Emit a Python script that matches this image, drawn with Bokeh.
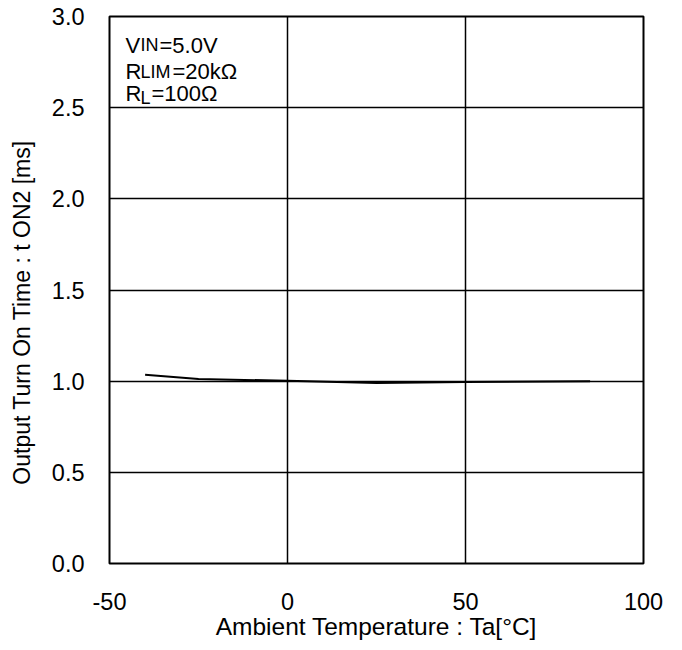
from bokeh.plotting import figure
from bokeh.models import FixedTicker, NumeralTickFormatter, Label, Range1d
from bokeh.embed import file_html
from bokeh.resources import INLINE

# ---- data ----
temps = [-40, -25, 0, 25, 50, 85]
ton2 = [1.035, 1.012, 1.002, 0.990, 0.996, 1.000]
x_ticks = [-50, 0, 50, 100]
y_ticks = [0.0, 0.5, 1.0, 1.5, 2.0, 2.5, 3.0]
x_title = "Ambient Temperature : Ta[°C]"
y_title = "Output Turn On Time : t ON2 [ms]"

FONT = "Liberation Sans"
TICK_SIZE = "23.5px"

p = figure(width=674, height=642, output_backend="svg", toolbar_location=None,
           x_range=Range1d(-50, 100), y_range=Range1d(0, 3.0),
           min_border_left=109, min_border_right=31, min_border_top=16,
           min_border_bottom=74)
p.background_fill_color = "white"
p.border_fill_color = "white"
p.outline_line_color = "black"
p.outline_line_width = 2

p.line(temps, ton2, line_color="black", line_width=2)

for ax in (p.xaxis[0], p.yaxis[0]):
    ax.axis_line_color = None
    ax.major_tick_line_color = None
    ax.minor_tick_line_color = None
    ax.major_tick_out = 0
    ax.major_tick_in = 0
    ax.minor_tick_out = 0
    ax.minor_tick_in = 0
    ax.major_label_text_font = FONT
    ax.major_label_text_font_size = TICK_SIZE
    ax.major_label_text_color = "black"
    ax.axis_label_text_font = FONT
    ax.axis_label_text_font_style = "normal"
    ax.axis_label_text_color = "black"

p.xaxis.ticker = FixedTicker(ticks=x_ticks)
p.xaxis.formatter = NumeralTickFormatter(format="0")
p.xaxis.major_label_standoff = 29
p.xaxis.axis_label = x_title
p.xaxis.axis_label_text_font_size = "24.5px"
p.xaxis.axis_label_standoff = 0

p.yaxis.ticker = FixedTicker(ticks=y_ticks)
p.yaxis.formatter = NumeralTickFormatter(format="0.0")
p.yaxis.major_label_standoff = 25
# trailing no-break spaces shift the centred title down to where the reference has it
p.yaxis.axis_label = y_title + "\u00a0" * 7
p.yaxis.axis_label_text_font_size = "23px"
p.yaxis.axis_label_standoff = 14

p.xgrid.ticker = FixedTicker(ticks=x_ticks)
p.ygrid.ticker = FixedTicker(ticks=y_ticks)
for g in (p.xgrid[0], p.ygrid[0]):
    g.grid_line_color = "black"
    g.grid_line_width = 1.5
    g.grid_line_alpha = 1.0

# annotation block: (text, font px, x offset px, y offset px)
ann_lines = [
    (2.842, [("V", 22, 0, 0), ("IN", 18, 15, 0), ("=5.0V", 22, 34, 0)]),
    (2.701, [("R", 22, 0, 0), ("LIM", 18, 15, -1), ("=20kΩ", 22, 47, 0)]),
    (2.576, [("R", 22, 0, 0), ("L", 18, 15, -4), ("=100Ω", 22, 26, 0)]),
]
for yv, parts in ann_lines:
    for txt, size, xo, dy in parts:
        p.add_layout(Label(x=-45.5, y=yv, x_offset=xo, y_offset=dy, text=txt,
                           text_font=FONT, text_font_size=f"{size}px",
                           text_baseline="alphabetic", text_align="left",
                           text_color="black"))

open("out.html", "w").write(file_html(p, INLINE))
